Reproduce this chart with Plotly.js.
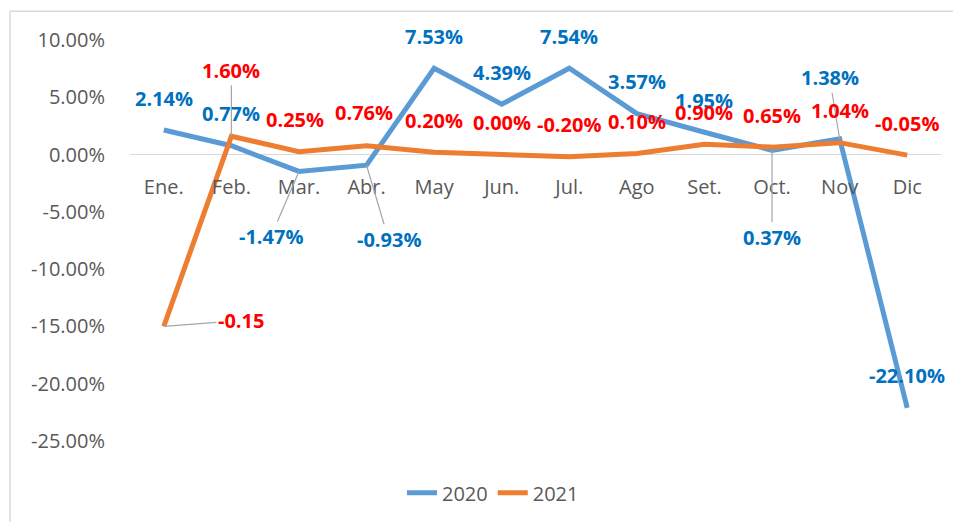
<!DOCTYPE html>
<html>
<head>
<meta charset="utf-8">
<script src="https://cdn.plot.ly/plotly-3.0.1.min.js"></script>
<style>html,body{margin:0;padding:0;background:#fff;}#chart{width:953px;height:524px;}</style>
</head>
<body>
<div id="chart"></div>
<script>
// ---- data ----
const months = ["Ene.", "Feb.", "Mar.", "Abr.", "May", "Jun.", "Jul.", "Ago", "Set.", "Oct.", "Nov", "Dic"];
const seriesNames = ["2020", "2021"];
const values2020 = [0.0214, 0.0077, -0.0147, -0.0093, 0.0753, 0.0439, 0.0754, 0.0357, 0.0195, 0.0037, 0.0138, -0.2210];
const values2021 = [-0.15, 0.0160, 0.0025, 0.0076, 0.0020, 0.0000, -0.0020, 0.0010, 0.0090, 0.0065, 0.0104, -0.0005];
const yTickVals = [0.10, 0.05, 0, -0.05, -0.10, -0.15, -0.20, -0.25];
const yTickText = ["10.00%", "5.00%", "0.00%", "-5.00%", "-10.00%", "-15.00%", "-20.00%", "-25.00%"];

// ---- label formatting ----
function pct(v) { return (v * 100).toFixed(2) + "%"; }
const labels2020 = values2020.map(pct);
const labels2021 = values2021.map((v, i) => i === 0 ? String(v) : pct(v));

// ---- label placement (pixel offsets, layout only) ----
const off2020 = {2: [-28, 65, true], 3: [22, 74, true], 9: [0, 87, true], 10: [-10, -61, true]};
const off2021 = {0: [77, -6, true], 1: [0, -66, true], 2: [-4, -32], 3: [-3, -33]};

const blue = "#5B9BD5", orange = "#ED7D31";
const labelFont = "Open Sans, sans-serif";

function makeAnns(vals, labs, offs, color) {
  return vals.map((v, i) => {
    const o = offs[i] || [0, -32, false];
    const a = {
      x: months[i], y: v, xref: "x", yref: "y", text: "<b>" + labs[i] + "</b>",
      font: {family: labelFont, size: 20, color: color},
    };
    if (o[2]) {
      Object.assign(a, {showarrow: true, ax: o[0], ay: o[1], arrowhead: 0, arrowwidth: 1.2,
        arrowcolor: "#A6A6A6", standoff: 0, startstandoff: 0});
    } else {
      Object.assign(a, {showarrow: false, xshift: o[0], yshift: -o[1]});
    }
    return a;
  });
}

const traces = [
  {x: months, y: values2020, name: seriesNames[0], type: "scatter", mode: "lines",
   line: {color: blue, width: 5}, hoverinfo: "skip"},
  {x: months, y: values2021, name: seriesNames[1], type: "scatter", mode: "lines",
   line: {color: orange, width: 5}, hoverinfo: "skip"}
];

const L = 130, R = 12, T = 40, B = 81, W = 953, H = 524;
const pw = W - L - R, ph = H - T - B;
const px = v => (v - L) / pw;
const py = v => (H - B - v) / ph;

const layout = {
  width: W, height: H,
  margin: {l: L, r: R, t: T, b: B},
  paper_bgcolor: "#fff", plot_bgcolor: "#fff",
  font: {family: labelFont, size: 20, color: "#595959"},
  showlegend: true,
  legend: {orientation: "h", x: px(493), xanchor: "center", y: py(495), yanchor: "middle",
    font: {family: labelFont, size: 20, color: "#595959"}, bgcolor: "rgba(0,0,0,0)"},
  xaxis: {type: "category", range: [-0.5, 11.5], showgrid: false, zeroline: false, showline: false,
    anchor: "free", position: 25 / 35, ticks: "outside", ticklen: 14, tickcolor: "rgba(0,0,0,0)",
    tickfont: {family: labelFont, size: 20, color: "#595959"}, fixedrange: true},
  yaxis: {range: [-0.25, 0.10], showgrid: false, zeroline: true, zerolinecolor: "#D9D9D9", zerolinewidth: 1.5,
    showline: false, tickvals: yTickVals, ticktext: yTickText, ticks: "outside", ticklen: 20,
    tickcolor: "rgba(0,0,0,0)", tickfont: {family: labelFont, size: 20, color: "#595959"}, fixedrange: true},
  annotations: makeAnns(values2020, labels2020, off2020, "#0070C0")
    .concat(makeAnns(values2021, labels2021, off2021, "#FF0000")),
  shapes: [
    {type: "line", xref: "paper", yref: "paper", x0: px(10), x1: px(953), y0: py(11), y1: py(11),
     line: {color: "#D9D9D9", width: 1.5}},
    {type: "line", xref: "paper", yref: "paper", x0: px(10), x1: px(10), y0: py(11), y1: py(524),
     line: {color: "#D9D9D9", width: 1.5}}
  ]
};

Plotly.newPlot("chart", traces, layout, {displayModeBar: false, staticPlot: true});
</script>
</body>
</html>
